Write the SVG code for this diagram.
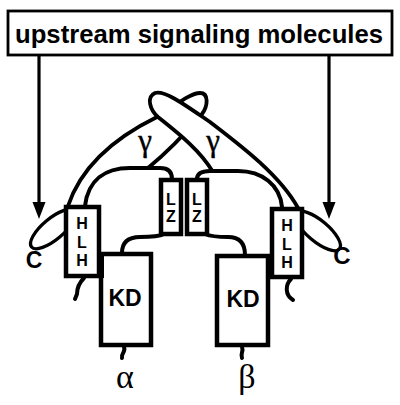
<svg xmlns="http://www.w3.org/2000/svg" width="400" height="405" viewBox="0 0 400 405">
<style>
.ln{fill:none;stroke:#000;stroke-width:4;stroke-linecap:round;stroke-linejoin:round}
.loop{fill:#fff;stroke:#000;stroke-width:3.8;stroke-linejoin:round}
.box{fill:#fff;stroke:#000;stroke-width:4.5}
.sans{font-family:"Liberation Sans",Arial,sans-serif;font-weight:bold;fill:#000;text-anchor:middle}
.greek{font-family:"Liberation Serif","Times New Roman",serif;fill:#000;text-anchor:middle}
</style>
<rect width="400" height="405" fill="#fff"/>
<g id="upstream">
<rect x="8" y="11" width="384" height="44" fill="#fff" stroke="#000" stroke-width="2.8"/>
<text x="15" y="43" class="sans" style="text-anchor:start" font-size="25.5" textLength="368" lengthAdjust="spacingAndGlyphs">upstream signaling molecules</text>
</g>
<g id="connectors">
<line x1="39" y1="56" x2="39" y2="205" stroke="#000" stroke-width="3.2"/>
<polygon points="32.5,202 45.5,202 39,219" fill="#000"/>
<line x1="329" y1="56" x2="329" y2="205" stroke="#000" stroke-width="3.2"/>
<polygon points="322.5,202 335.5,202 329,219" fill="#000"/>
</g>
<g id="gamma-left">
<path class="loop" d="M68,206 C80,170 110,140 157,117 C175,106 190,93 200,93 C209,93 208,106 202,114 C190,128 170,150 148,168"/>
</g>
<g id="gamma-right">
<path class="loop" d="M298,208 C280,175 240,145 210,122 C185,105 165,90 155,93 C146,97 150,110 158,117 C178,133 200,150 213,172"/>
</g>
<g id="c-loops">
<ellipse cx="53" cy="229" rx="28" ry="10.5" transform="rotate(-40 53 229)" fill="none" stroke="#000" stroke-width="3.3"/>
<ellipse cx="318" cy="231" rx="28" ry="10.5" transform="rotate(40 318 231)" fill="none" stroke="#000" stroke-width="3.3"/>
</g>
<g id="links">
<path class="ln" d="M85,206 C88,180 105,168 130,168 L160,168 C168,168 172,172 172,179"/>
<path class="ln" d="M197,179 C197,173 202,171 210,171 L238,171 C262,171 280,185 282,207"/>
<path class="ln" d="M164,234 Q158,237 140,237 Q122,237 122,253"/>
<path class="ln" d="M205,234 Q212,237 228,237 Q245,237 245,255"/>
<path class="ln" d="M84,278 C80,282 77,286 77,294 L75,299"/>
<path class="ln" d="M291,279 C285,285 285,295 293,300"/>
<path class="ln" d="M124,347 C126,352 121,353 122,358"/>
<path class="ln" d="M242,347 C244,352 240,353 242,358"/>
</g>
<g id="hlh-left">
<rect class="box" x="66" y="207" width="33" height="69"/>
<text class="sans" x="82" y="229" font-size="16">H</text>
<text class="sans" x="82" y="247.5" font-size="16">L</text>
<text class="sans" x="82" y="266" font-size="16">H</text>
<text class="sans" x="34" y="268" font-size="23">C</text>
</g>
<g id="hlh-right">
<rect class="box" x="272" y="209" width="30" height="68"/>
<text class="sans" x="287" y="231" font-size="16">H</text>
<text class="sans" x="287" y="249.5" font-size="16">L</text>
<text class="sans" x="287" y="268" font-size="16">H</text>
<text class="sans" x="342" y="264" font-size="24">C</text>
</g>
<g id="lz-left">
<rect class="box" x="161" y="180" width="20" height="54"/>
<text class="sans" x="171" y="205" font-size="16">L</text>
<text class="sans" x="171" y="222" font-size="16">Z</text>
</g>
<g id="lz-right">
<rect class="box" x="187" y="180" width="20" height="54"/>
<text class="sans" x="197" y="205" font-size="16">L</text>
<text class="sans" x="197" y="222" font-size="16">Z</text>
</g>
<g id="kd-alpha">
<rect class="box" x="101" y="254" width="50" height="91"/>
<rect x="97" y="252" width="7" height="26" fill="#000"/>
<text class="sans" x="125" y="306" font-size="23">KD</text>
<text class="greek" x="125" y="388" font-size="34">α</text>
</g>
<g id="kd-beta">
<rect class="box" x="217" y="256" width="51" height="89"/>
<rect x="266" y="254" width="8" height="25" fill="#000"/>
<text class="sans" x="243" y="307" font-size="23">KD</text>
<text class="greek" x="247" y="388" font-size="34">β</text>
</g>
<g id="labels">
<text class="greek" x="145" y="151" font-size="31" stroke="#000" stroke-width="0.4">γ</text>
<text class="greek" x="213" y="151" font-size="31" stroke="#000" stroke-width="0.4">γ</text>
</g>
</svg>
